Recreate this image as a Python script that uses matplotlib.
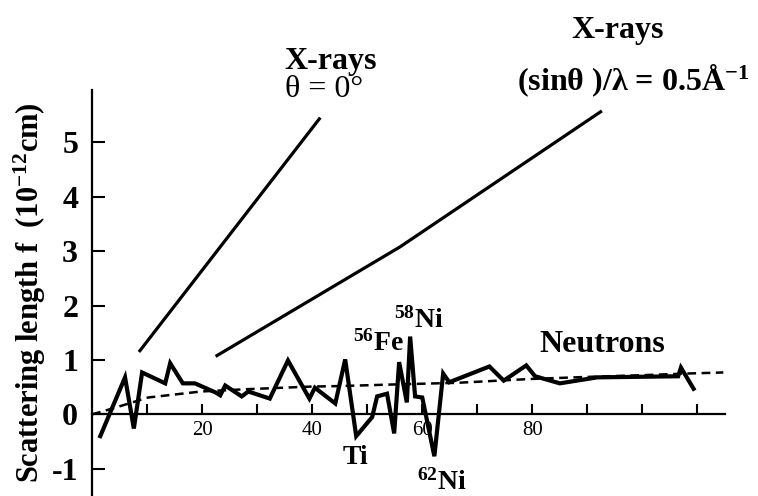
import matplotlib
matplotlib.use("Agg")
import matplotlib.pyplot as plt
import numpy as np

plt.rcParams['font.family'] = ['Liberation Serif', 'DejaVu Serif']
plt.rcParams['mathtext.fontset'] = 'custom'
plt.rcParams['mathtext.rm'] = 'Liberation Serif'
plt.rcParams['mathtext.it'] = 'Liberation Serif:italic'
plt.rcParams['mathtext.bf'] = 'Liberation Serif:bold'

# neutron scattering lengths against atomic number
neutron_z = [1.5, 6, 7.6, 9.1, 13.3, 14.2, 16.5, 18.7, 22.5, 23.3, 24.2, 27.2,
             28.4, 32.3, 35.6, 39.5, 40.5, 44.2, 46, 48, 50.9, 51.8, 53.6,
             54.9, 55.8, 57.2, 57.8, 58.7, 60, 62.2, 63.8, 64.9, 72.2, 74.8,
             78.9, 80.5, 85, 91.8, 106.5, 107, 109.3]
neutron_f = [-0.40, 0.68, -0.26, 0.77, 0.57, 0.94, 0.57, 0.57, 0.40, 0.35,
             0.53, 0.33, 0.42, 0.29, 0.99, 0.29, 0.49, 0.20, 1.01, -0.40,
             -0.05, 0.33, 0.38, -0.35, 0.96, 0.22, 1.43, 0.33, 0.31, -0.77,
             0.75, 0.59, 0.88, 0.62, 0.90, 0.70, 0.57, 0.68, 0.70, 0.86, 0.47]

# smooth trend (dashed)
trend_z = [0, 3.8, 10.2, 19.8, 27.5, 39.6, 45, 55, 66.4, 79.6, 90.5, 100, 108, 114.7]
trend_f = [0, 0.11, 0.31, 0.42, 0.46, 0.51, 0.52, 0.55, 0.58, 0.65, 0.69, 0.72, 0.75, 0.77]

# x-ray form factors
xray0_z = [8.7, 41.3]
xray0_f = [1.17, 5.43]
xray05_z = [22.7, 56, 92.4]
xray05_f = [1.08, 3.08, 5.56]

y_ticks = [-1, 0, 1, 2, 3, 4, 5]
x_ticks = [10, 20, 30, 40, 50, 60, 70, 80, 90, 100, 110]
x_ticklabels = ['', '20', '', '40', '', '60', '', '80', '', '', '']

fig = plt.figure(figsize=(7.58, 4.96), dpi=100)
ax = fig.add_axes([0.1214, 0.0, 0.835, 0.8185])

ax.plot(neutron_z, neutron_f, color='black', lw=3.0, solid_joinstyle='miter')
ax.plot(trend_z, trend_f, color='black', lw=1.8, dashes=(3.5, 2.2))
ax.plot(xray0_z, xray0_f, color='black', lw=2.3)
ax.plot(xray05_z, xray05_f, color='black', lw=2.3)

ax.set_xlim(0, 115)
ax.set_ylim(-1.5, 5.96)
for s in ['top', 'right']:
    ax.spines[s].set_visible(False)
ax.spines['bottom'].set_position(('data', 0))
ax.spines['left'].set_linewidth(1.6)
ax.spines['bottom'].set_linewidth(1.6)

ax.set_yticks(y_ticks)
ax.set_yticklabels([str(v) for v in y_ticks], fontsize=23, fontweight='bold')
ax.set_xticks(x_ticks)
ax.set_xticklabels(x_ticklabels, fontsize=15)
ax.tick_params(axis='y', direction='in', length=9, width=1.5, pad=10)
ax.tick_params(axis='x', direction='in', length=7, width=1.5, pad=5)

ax.set_ylabel(r"Scattering length f  (10$^{\mathbf{-12}}$cm)",
              fontsize=22, fontweight='bold')
ax.yaxis.set_label_coords(-0.07, 0.5)

bold = dict(fontweight='bold', color='black')
ax.text(43.3, 6.35, "X-rays", fontsize=23, ha='center', va='baseline', **bold)
ax.text(42.2, 5.83, "θ = 0°", fontsize=23, ha='center', va='baseline')
ax.text(95.5, 6.92, "X-rays", fontsize=23, ha='center', va='baseline', **bold)
ax.text(77.3, 5.96, r"(sinθ )/λ = 0.5Å$^{\mathbf{-1}}$", fontsize=23,
        ha='left', va='baseline', **bold)
ax.text(92.7, 1.14, "Neutrons", fontsize=23, ha='center', va='baseline', **bold)
ax.text(47.5, 1.17, r"$^{\mathbf{56}}$Fe", fontsize=20, ha='left', va='baseline', **bold)
ax.text(54.9, 1.60, r"$^{\mathbf{58}}$Ni", fontsize=20, ha='left', va='baseline', **bold)
ax.text(45.6, -0.92, "Ti", fontsize=20, ha='left', va='baseline', **bold)
ax.text(59.1, -1.39, r"$^{\mathbf{62}}$Ni", fontsize=20, ha='left', va='baseline', **bold)

fig.savefig("out.png", dpi=100)
